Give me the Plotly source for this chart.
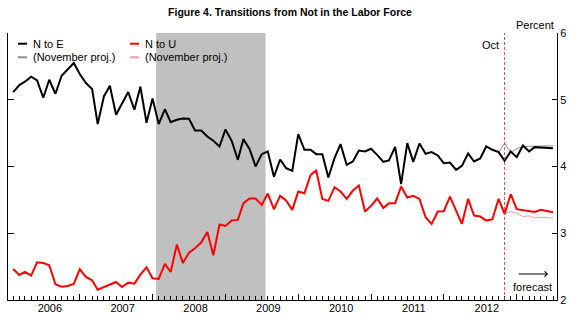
import pandas as pd
import plotly.graph_objects as go

# Monthly transition rates out of "not in the labor force", Jan 2006 - Jun 2013
# (actual data through Oct 2012, current forecast thereafter)
months = pd.date_range("2006-01-01", periods=90, freq="MS")

n_to_e = [
    5.115, 5.22, 5.27, 5.345, 5.29, 5.03, 5.30, 5.09, 5.36, 5.45, 5.55, 5.385,
    5.25, 5.16, 4.635, 5.05, 5.21, 4.775, 4.95, 5.115, 4.85, 5.195, 4.655, 5.02,
    4.635, 4.86, 4.665, 4.70, 4.72, 4.715, 4.54, 4.54, 4.45, 4.385, 4.30, 4.555,
    4.385, 4.10, 4.41, 4.26, 4.00, 4.185, 4.225, 3.845, 4.105, 3.975, 3.935, 4.485,
    4.25, 4.25, 4.185, 4.185, 3.835, 4.125, 4.335, 4.025, 4.075, 4.24, 4.225, 4.265,
    4.175, 4.07, 4.09, 4.295, 3.735, 4.35, 4.07, 4.345, 4.19, 4.215, 4.165, 4.05,
    4.06, 3.95, 4.01, 4.195, 4.075, 4.12, 4.30, 4.25, 4.215, 4.085, 4.225, 4.14,
    4.315, 4.225, 4.29, 4.285, 4.285, 4.275,
]

n_to_u = [
    2.465, 2.375, 2.42, 2.365, 2.565, 2.555, 2.52, 2.235, 2.20, 2.21, 2.24, 2.46,
    2.345, 2.295, 2.155, 2.195, 2.225, 2.27, 2.195, 2.26, 2.245, 2.38, 2.49, 2.325,
    2.315, 2.54, 2.42, 2.83, 2.555, 2.71, 2.775, 2.86, 3.02, 2.67, 3.13, 3.11,
    3.19, 3.20, 3.45, 3.52, 3.52, 3.425, 3.595, 3.36, 3.56, 3.49, 3.35, 3.625,
    3.60, 3.875, 3.94, 3.515, 3.485, 3.69, 3.625, 3.515, 3.64, 3.715, 3.325, 3.41,
    3.52, 3.38, 3.45, 3.45, 3.70, 3.535, 3.56, 3.515, 3.24, 3.14, 3.325, 3.33,
    3.55, 3.325, 3.14, 3.515, 3.265, 3.25, 3.19, 3.21, 3.515, 3.29, 3.585, 3.36,
    3.345, 3.325, 3.32, 3.35, 3.335, 3.315,
]

# November projections, Sep 2012 - Jun 2013
nov_months = pd.date_range("2012-09-01", periods=10, freq="MS")
n_to_e_nov = [4.215, 4.35, 4.21, 4.265, 4.30, 4.30, 4.30, 4.30, 4.305, 4.31]
n_to_u_nov = [3.515, 3.30, 3.325, 3.30, 3.25, 3.26, 3.23, 3.24, 3.235, 3.225]

recession = ("2007-12-19", "2009-06-20")
last_actual = "2012-10-01"

year_labels = ["2006", "2007", "2008", "2009", "2010", "2011", "2012"]
year_label_pos = [f"{y}-07-04" for y in year_labels]
y_ticks = [2, 3, 4, 5, 6]

x_range = ["2005-12-06", "2013-06-21"]
FONT = "Liberation Sans, Arial, Helvetica, sans-serif"

fig = go.Figure()

fig.add_trace(go.Scatter(x=nov_months, y=n_to_e_nov, mode="lines",
                         line=dict(color="#8c8c8c", width=1), showlegend=False))
fig.add_trace(go.Scatter(x=nov_months, y=n_to_u_nov, mode="lines",
                         line=dict(color="#ff9a9a", width=1), showlegend=False))
fig.add_trace(go.Scatter(x=months, y=n_to_u, mode="lines",
                         line=dict(color="#ff0000", width=2), showlegend=False))
fig.add_trace(go.Scatter(x=months, y=n_to_e, mode="lines",
                         line=dict(color="#000000", width=2), showlegend=False))
# carrier for the label axis and the left-hand axis
fig.add_trace(go.Scatter(x=[None], y=[None], xaxis="x2", yaxis="y2",
                         showlegend=False, hoverinfo="skip"))

shapes = [
    dict(type="rect", xref="x", yref="paper", x0=recession[0], x1=recession[1],
         y0=0, y1=1, fillcolor="#c0c0c0", line=dict(width=0), layer="below"),
    dict(type="line", xref="x", yref="paper", x0=last_actual, x1=last_actual,
         y0=0, y1=1, line=dict(color="#c83a3a", width=0.9, dash="3px,2px")),
]

# legend
legend_items = [
    ("N to E", "#000000", 2, 0, 0),
    ("(November proj.)", "#8c8c8c", 2, 0, 1),
    ("N to U", "#ff0000", 2, 1, 0),
    ("(November proj.)", "#ff9a9a", 2, 1, 1),
]
annotations = []
col_x = [18, 130]
row_y = [43.7, 57.3]
W, H, L, T = 549, 267, 8, 33
for text, color, w, col, row in legend_items:
    x0 = col_x[col]
    yp = (300 - row_y[row]) / H
    shapes.append(dict(type="line", xref="paper", yref="paper",
                       x0=(x0 - L) / W, x1=(x0 + 9 - L) / W, y0=yp, y1=yp,
                       line=dict(color=color, width=w)))
    annotations.append(dict(text=text, xref="paper", yref="paper",
                            x=(x0 + 13 - L) / W, y=yp, xanchor="left",
                            yanchor="middle", showarrow=False,
                            font=dict(size=11, color="#000")))

annotations += [
    dict(text="Percent", xref="paper", yref="paper", x=(556 - L) / W,
         y=(300 - 25) / H, xanchor="right", yanchor="middle", showarrow=False,
         font=dict(size=11, color="#000")),
    dict(text="Oct", xref="x", yref="paper", x=last_actual, xshift=-4,
         y=(300 - 45) / H, xanchor="right", yanchor="middle", showarrow=False,
         font=dict(size=11, color="#000")),
    dict(text="forecast", xref="x", yref="y", x="2013-02-19", y=2.195,
         xanchor="center", yanchor="middle", showarrow=False,
         font=dict(size=11, color="#000")),
    dict(text="", xref="x", yref="y", x="2013-05-07", y=2.39, ax=-31, ay=0,
         showarrow=True, arrowhead=4, arrowsize=1, arrowwidth=1,
         arrowcolor="#000"),
]

fig.update_layout(
    width=580, height=324,
    margin=dict(l=L, r=23, t=T, b=24),
    paper_bgcolor="white", plot_bgcolor="white",
    font=dict(family=FONT, size=11, color="#000"),
    title=dict(text="<b>Figure 4. Transitions from Not in the Labor Force</b>",
               x=0.5, xref="container", xanchor="center",
               y=1 - 12 / 324, yref="container", yanchor="middle",
               font=dict(size=10.5, family=FONT, color="#000")),
    showlegend=False,
    shapes=shapes,
    annotations=annotations,
    xaxis=dict(type="date", range=x_range, showline=True, linecolor="#000",
               linewidth=1, ticks="inside", tick0="2006-12-01", dtick="M12",
               ticklen=6, tickcolor="#000", showticklabels=False,
               showgrid=False, zeroline=False,
               minor=dict(ticks="inside", dtick="M1", tick0="2006-01-01",
                          ticklen=4, tickcolor="#000", showgrid=False)),
    xaxis2=dict(type="date", range=x_range, overlaying="x", anchor="y",
                side="bottom", tickmode="array", tickvals=year_label_pos,
                ticktext=year_labels, ticks="", showline=False,
                showgrid=False, zeroline=False, tickfont=dict(size=11)),
    yaxis=dict(range=[2, 6], side="right", tickmode="array", tickvals=y_ticks,
               ticks="inside", ticklen=5, tickcolor="#000", showline=True,
               linecolor="#000", linewidth=1, showgrid=False, zeroline=False,
               tickfont=dict(size=11)),
    yaxis2=dict(range=[2, 6], overlaying="y", side="left", anchor="x",
                tickmode="array", tickvals=y_ticks, ticks="inside", ticklen=6,
                tickcolor="#000", showticklabels=False, showline=True,
                linecolor="#000", linewidth=1, showgrid=False, zeroline=False),
)

fig.write_html("out.html")
